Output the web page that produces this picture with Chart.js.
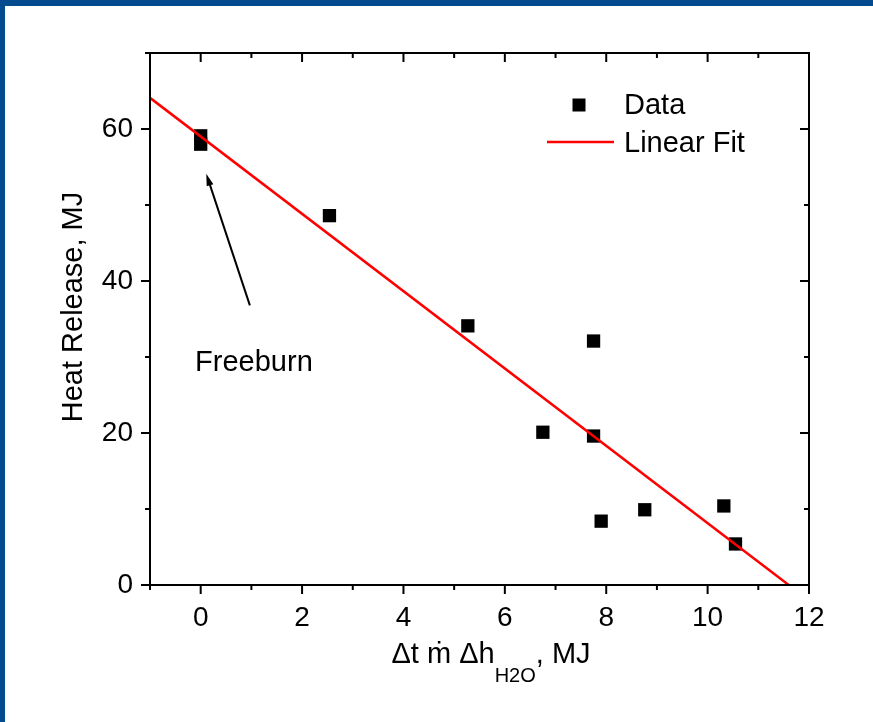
<!DOCTYPE html>
<html>
<head>
<meta charset="utf-8">
<title>Heat Release</title>
<script src="https://cdn.jsdelivr.net/npm/chart.js@4.4.1/dist/chart.umd.min.js"></script>
<style>
  html, body { margin: 0; padding: 0; background: #fff; }
  canvas { display: block; }
</style>
</head>
<body>
<canvas id="heat-chart" width="873" height="722"></canvas>
<script>
const FONT = '"Liberation Sans", Arial, Helvetica, sans-serif';

// measured points and the fitted line
const dataX = [0, 0, 2.54, 5.27, 6.75, 7.75, 7.75, 7.9, 8.76, 10.32, 10.55];
const dataY = [59.1, 58.0, 48.6, 34.1, 20.1, 32.1, 19.6, 8.4, 9.9, 10.4, 5.4];
const fitX = [-1, 11.6];
const fitY = [64.1, 0];
const seriesNames = ["Data", "Linear Fit"];

// axis ticks (major ones get labels)
const xTicks = [0, 2, 4, 6, 8, 10, 12];
const xMinor = [-1, 1, 3, 5, 7, 9, 11];
const yTicks = [0, 20, 40, 60];
const yMinor = [10, 30, 50, 70];

const CHART = document.getElementById("heat-chart");
const BLUE = "#034b8e";

const decor = {
  id: "decor",
  beforeDraw(chart) {
    const ctx = chart.ctx;
    ctx.save();
    ctx.fillStyle = "#fff";
    ctx.fillRect(0, 0, chart.width, chart.height);
    ctx.fillStyle = BLUE;
    ctx.fillRect(0, 0, chart.width, 6);
    ctx.fillRect(0, 0, 5, chart.height);
    ctx.restore();
  },
  afterDraw(chart) {
    const { ctx, chartArea: a, scales: { x, y } } = chart;
    ctx.save();

    // frame
    ctx.strokeStyle = "#000";
    ctx.lineWidth = 2;
    ctx.strokeRect(a.left, a.top, a.right - a.left, a.bottom - a.top);

    // tick marks: outward on bottom/left, inward on top/right
    ctx.beginPath();
    [[xTicks, 9], [xMinor, 5]].forEach(([vals, len]) => vals.forEach(v => {
      const px = x.getPixelForValue(v);
      ctx.moveTo(px, a.bottom); ctx.lineTo(px, a.bottom + len);
      ctx.moveTo(px, a.top); ctx.lineTo(px, a.top + len);
    }));
    [[yTicks, 9], [yMinor, 5]].forEach(([vals, len]) => vals.forEach(v => {
      const py = y.getPixelForValue(v);
      ctx.moveTo(a.left, py); ctx.lineTo(a.left - len, py);
      ctx.moveTo(a.right, py); ctx.lineTo(a.right - len, py);
    }));
    ctx.stroke();

    ctx.fillStyle = "#000";

    // y title
    ctx.font = `29px ${FONT}`;
    ctx.textAlign = "center";
    ctx.textBaseline = "alphabetic";
    ctx.save();
    ctx.translate(a.left - 68, (a.top + a.bottom) / 2 - 12);
    ctx.rotate(-Math.PI / 2);
    ctx.fillText("Heat Release, MJ", 0, 0);
    ctx.restore();

    // x title with subscript
    const parts = [["Δt ṁ Δh", 29, 0], ["H2O", 20, 19], [", MJ", 29, 0]];
    ctx.textAlign = "left";
    let total = 0;
    parts.forEach(([t, s]) => { ctx.font = `${s}px ${FONT}`; total += ctx.measureText(t).width; });
    let cx = 491 - total / 2;
    parts.forEach(([t, s, dy]) => {
      ctx.font = `${s}px ${FONT}`;
      ctx.fillText(t, cx, a.bottom + 78 + dy);
      cx += ctx.measureText(t).width;
    });

    // Freeburn annotation
    ctx.font = `29px ${FONT}`;
    ctx.fillText("Freeburn", x.getPixelForValue(-0.11), y.getPixelForValue(28.2));

    const x0 = x.getPixelForValue(0.97), y0 = y.getPixelForValue(36.8);
    const x1 = x.getPixelForValue(0.11), y1 = y.getPixelForValue(54.1);
    const ang = Math.atan2(y1 - y0, x1 - x0);
    const c = Math.cos(ang), s = Math.sin(ang);
    ctx.lineWidth = 2;
    ctx.beginPath();
    ctx.moveTo(x0, y0);
    ctx.lineTo(x1 - 8 * c, y1 - 8 * s);
    ctx.stroke();
    ctx.beginPath();
    ctx.moveTo(x1, y1);
    ctx.lineTo(x1 - 12 * c - 3.5 * s, y1 - 12 * s + 3.5 * c);
    ctx.lineTo(x1 - 12 * c + 3.5 * s, y1 - 12 * s - 3.5 * c);
    ctx.closePath();
    ctx.fill();

    // legend
    const ds = chart.data.datasets;
    ctx.textBaseline = "middle";
    ctx.fillStyle = ds[0].backgroundColor;
    ctx.fillRect(572.5, 98.5, 13, 13);
    ctx.fillStyle = "#000";
    ctx.fillText(ds[0].label, 624, 106);
    ctx.strokeStyle = ds[1].borderColor;
    ctx.lineWidth = 2.5;
    ctx.beginPath();
    ctx.moveTo(547, 142);
    ctx.lineTo(614, 142);
    ctx.stroke();
    ctx.fillText(ds[1].label, 624, 144);

    ctx.restore();
  }
};

const tickFont = { family: FONT, size: 28 };

let heatChart = new Chart(CHART, {
  type: "scatter",
  data: {
    datasets: [
      {
        label: seriesNames[0],
        data: dataX.map((v, i) => ({ x: v, y: dataY[i] })),
        pointStyle: "rect",
        pointRadius: 9.4,
        pointHoverRadius: 9.4,
        backgroundColor: "#000",
        borderWidth: 0,
        order: 2
      },
      {
        label: seriesNames[1],
        type: "line",
        data: fitX.map((v, i) => ({ x: v, y: fitY[i] })),
        borderColor: "#ff0000",
        borderWidth: 2.5,
        pointRadius: 0,
        fill: false,
        order: 1
      }
    ]
  },
  options: {
    responsive: false,
    animation: false,
    layout: { padding: { top: 53, right: 64, left: 0, bottom: 0 } },
    plugins: {
      legend: { display: false },
      tooltip: { enabled: false }
    },
    scales: {
      x: {
        type: "linear",
        min: -1,
        max: 12,
        afterFit: s => { s.height = 137; },
        afterBuildTicks: s => { s.ticks = xTicks.map(v => ({ value: v })); },
        grid: { display: false, drawTicks: false },
        border: { display: false },
        ticks: { font: tickFont, color: "#000", padding: 16, maxRotation: 0, autoSkip: false }
      },
      y: {
        type: "linear",
        min: 0,
        max: 70,
        afterFit: s => { s.width = 150; },
        afterBuildTicks: s => { s.ticks = yTicks.map(v => ({ value: v })); },
        grid: { display: false, drawTicks: false },
        border: { display: false },
        ticks: { font: tickFont, color: "#000", padding: 17, autoSkip: false }
      }
    }
  },
  plugins: [decor]
});
</script>
</body>
</html>
